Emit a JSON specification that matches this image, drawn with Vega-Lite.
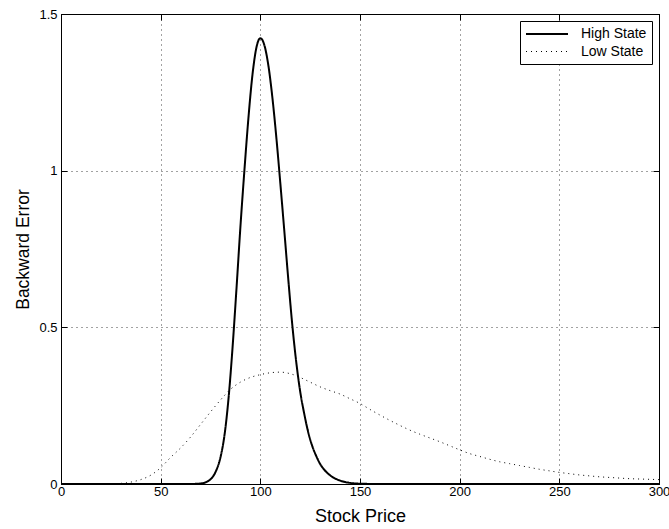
{
  "$schema": "https://vega.github.io/schema/vega-lite/v6.json",
  "autosize": "none",
  "width": 598,
  "height": 470,
  "padding": {"left": 61, "top": 14, "right": 10, "bottom": 45},
  "background": "white",
  "config": {
    "font": "Liberation Sans",
    "view": {"stroke": "#000", "strokeWidth": 1},
    "axis": {
      "labelFont": "Liberation Sans",
      "titleFont": "Liberation Sans",
      "labelFontSize": 13,
      "titleFontSize": 18,
      "titleFontWeight": "normal",
      "labelColor": "#000",
      "titleColor": "#000",
      "domainColor": "#000",
      "tickColor": "#000",
      "tickSize": -6,
      "tickWidth": 1,
      "gridColor": "#444",
      "gridDash": [1, 4],
      "gridWidth": 1
    },
    "legend": {
      "labelFont": "Liberation Sans",
      "labelFontSize": 14,
      "labelColor": "#000"
    }
  },
  "data": {
    "values": [
      {"p": 0, "v": 0, "s": "High State"},
      {"p": 50, "v": 0, "s": "High State"},
      {"p": 60, "v": 0, "s": "High State"},
      {"p": 64, "v": 0.0001, "s": "High State"},
      {"p": 66, "v": 0.0003, "s": "High State"},
      {"p": 68, "v": 0.0006, "s": "High State"},
      {"p": 70, "v": 0.0015, "s": "High State"},
      {"p": 72, "v": 0.004, "s": "High State"},
      {"p": 74, "v": 0.010, "s": "High State"},
      {"p": 76, "v": 0.022, "s": "High State"},
      {"p": 78, "v": 0.045, "s": "High State"},
      {"p": 80, "v": 0.085, "s": "High State"},
      {"p": 82, "v": 0.155, "s": "High State"},
      {"p": 84, "v": 0.27, "s": "High State"},
      {"p": 86, "v": 0.43, "s": "High State"},
      {"p": 88, "v": 0.62, "s": "High State"},
      {"p": 90, "v": 0.82, "s": "High State"},
      {"p": 92, "v": 1.0, "s": "High State"},
      {"p": 94, "v": 1.166, "s": "High State"},
      {"p": 96, "v": 1.303, "s": "High State"},
      {"p": 98, "v": 1.392, "s": "High State"},
      {"p": 100, "v": 1.423, "s": "High State"},
      {"p": 102, "v": 1.401, "s": "High State"},
      {"p": 104, "v": 1.337, "s": "High State"},
      {"p": 106, "v": 1.236, "s": "High State"},
      {"p": 108, "v": 1.108, "s": "High State"},
      {"p": 110, "v": 0.962, "s": "High State"},
      {"p": 112, "v": 0.81, "s": "High State"},
      {"p": 114, "v": 0.655, "s": "High State"},
      {"p": 116, "v": 0.51, "s": "High State"},
      {"p": 118, "v": 0.39, "s": "High State"},
      {"p": 120, "v": 0.295, "s": "High State"},
      {"p": 122, "v": 0.225, "s": "High State"},
      {"p": 124, "v": 0.166, "s": "High State"},
      {"p": 126, "v": 0.122, "s": "High State"},
      {"p": 128, "v": 0.09, "s": "High State"},
      {"p": 130, "v": 0.064, "s": "High State"},
      {"p": 132, "v": 0.046, "s": "High State"},
      {"p": 134, "v": 0.033, "s": "High State"},
      {"p": 136, "v": 0.023, "s": "High State"},
      {"p": 138, "v": 0.016, "s": "High State"},
      {"p": 140, "v": 0.011, "s": "High State"},
      {"p": 142, "v": 0.007, "s": "High State"},
      {"p": 144, "v": 0.0045, "s": "High State"},
      {"p": 146, "v": 0.0028, "s": "High State"},
      {"p": 148, "v": 0.0017, "s": "High State"},
      {"p": 150, "v": 0.001, "s": "High State"},
      {"p": 155, "v": 0.0003, "s": "High State"},
      {"p": 160, "v": 0, "s": "High State"},
      {"p": 200, "v": 0, "s": "High State"},
      {"p": 300, "v": 0, "s": "High State"},
      {"p": 0, "v": 0, "s": "Low State"},
      {"p": 15, "v": 0, "s": "Low State"},
      {"p": 20, "v": 0.0001, "s": "Low State"},
      {"p": 25, "v": 0.0005, "s": "Low State"},
      {"p": 30, "v": 0.002, "s": "Low State"},
      {"p": 35, "v": 0.006, "s": "Low State"},
      {"p": 40, "v": 0.014, "s": "Low State"},
      {"p": 45, "v": 0.028, "s": "Low State"},
      {"p": 50, "v": 0.052, "s": "Low State"},
      {"p": 55, "v": 0.085, "s": "Low State"},
      {"p": 60, "v": 0.115, "s": "Low State"},
      {"p": 65, "v": 0.150, "s": "Low State"},
      {"p": 70, "v": 0.190, "s": "Low State"},
      {"p": 75, "v": 0.230, "s": "Low State"},
      {"p": 80, "v": 0.268, "s": "Low State"},
      {"p": 85, "v": 0.302, "s": "Low State"},
      {"p": 90, "v": 0.325, "s": "Low State"},
      {"p": 95, "v": 0.340, "s": "Low State"},
      {"p": 100, "v": 0.349, "s": "Low State"},
      {"p": 105, "v": 0.355, "s": "Low State"},
      {"p": 110, "v": 0.357, "s": "Low State"},
      {"p": 115, "v": 0.352, "s": "Low State"},
      {"p": 120, "v": 0.340, "s": "Low State"},
      {"p": 125, "v": 0.325, "s": "Low State"},
      {"p": 130, "v": 0.310, "s": "Low State"},
      {"p": 135, "v": 0.298, "s": "Low State"},
      {"p": 140, "v": 0.287, "s": "Low State"},
      {"p": 145, "v": 0.272, "s": "Low State"},
      {"p": 150, "v": 0.257, "s": "Low State"},
      {"p": 155, "v": 0.238, "s": "Low State"},
      {"p": 160, "v": 0.220, "s": "Low State"},
      {"p": 165, "v": 0.203, "s": "Low State"},
      {"p": 170, "v": 0.187, "s": "Low State"},
      {"p": 175, "v": 0.172, "s": "Low State"},
      {"p": 180, "v": 0.159, "s": "Low State"},
      {"p": 185, "v": 0.147, "s": "Low State"},
      {"p": 190, "v": 0.135, "s": "Low State"},
      {"p": 195, "v": 0.122, "s": "Low State"},
      {"p": 200, "v": 0.109, "s": "Low State"},
      {"p": 205, "v": 0.097, "s": "Low State"},
      {"p": 210, "v": 0.088, "s": "Low State"},
      {"p": 215, "v": 0.079, "s": "Low State"},
      {"p": 220, "v": 0.071, "s": "Low State"},
      {"p": 225, "v": 0.065, "s": "Low State"},
      {"p": 230, "v": 0.059, "s": "Low State"},
      {"p": 235, "v": 0.053, "s": "Low State"},
      {"p": 240, "v": 0.047, "s": "Low State"},
      {"p": 245, "v": 0.042, "s": "Low State"},
      {"p": 250, "v": 0.037, "s": "Low State"},
      {"p": 255, "v": 0.033, "s": "Low State"},
      {"p": 260, "v": 0.029, "s": "Low State"},
      {"p": 265, "v": 0.026, "s": "Low State"},
      {"p": 270, "v": 0.023, "s": "Low State"},
      {"p": 275, "v": 0.021, "s": "Low State"},
      {"p": 280, "v": 0.019, "s": "Low State"},
      {"p": 285, "v": 0.017, "s": "Low State"},
      {"p": 290, "v": 0.016, "s": "Low State"},
      {"p": 295, "v": 0.015, "s": "Low State"},
      {"p": 300, "v": 0.014, "s": "Low State"}
    ]
  },
  "resolve": {"axis": {"x": "independent", "y": "independent"}},
  "layer": [
    {
      "mark": {"type": "line", "color": "#000", "clip": true, "interpolate": "monotone"},
      "encoding": {
        "x": {
          "field": "p", "type": "quantitative",
          "scale": {"domain": [0, 300], "nice": false, "zero": false},
          "axis": {"title": "Stock Price", "values": [0, 50, 100, 150, 200, 250, 300], "format": "d", "grid": true, "labelPadding": 7, "titleY": 37, "titleBaseline": "alphabetic", "labelFlush": false}
        },
        "y": {
          "field": "v", "type": "quantitative",
          "scale": {"domain": [0, 1.5], "nice": false},
          "axis": {"title": "Backward Error", "titleFontSize": 17.5, "values": [0, 0.5, 1, 1.5], "format": "~g", "grid": true, "labelPadding": 10, "titleX": -33, "titleBaseline": "alphabetic", "labelFlush": false}
        },
        "strokeDash": {
          "field": "s", "type": "nominal",
          "scale": {"domain": ["High State", "Low State"], "range": [[1, 0], [1, 4]]},
          "legend": {
            "title": null,
            "orient": "top-right",
            "offset": 7,
            "strokeColor": "#000",
            "fillColor": "white",
            "padding": 5,
            "symbolType": "M-3,0H3",
            "symbolSize": 196,
            "symbolOffset": 14,
            "symbolStrokeColor": "#000",
            "labelOffset": 26,
            "rowPadding": 3
          }
        },
        "strokeWidth": {
          "field": "s", "type": "nominal",
          "scale": {"domain": ["High State", "Low State"], "range": [2, 1]},
          "legend": null
        },
        "order": {"field": "p", "type": "quantitative"}
      }
    },
    {
      "mark": {"type": "line", "opacity": 0},
      "encoding": {
        "x": {
          "field": "p", "type": "quantitative",
          "axis": {"orient": "top", "title": null, "labels": false, "grid": false, "values": [0, 50, 100, 150, 200, 250, 300]}
        },
        "y": {
          "field": "v", "type": "quantitative",
          "axis": {"orient": "right", "title": null, "labels": false, "grid": false, "values": [0, 0.5, 1, 1.5]}
        },
        "detail": {"field": "s", "type": "nominal"}
      }
    }
  ]
}
